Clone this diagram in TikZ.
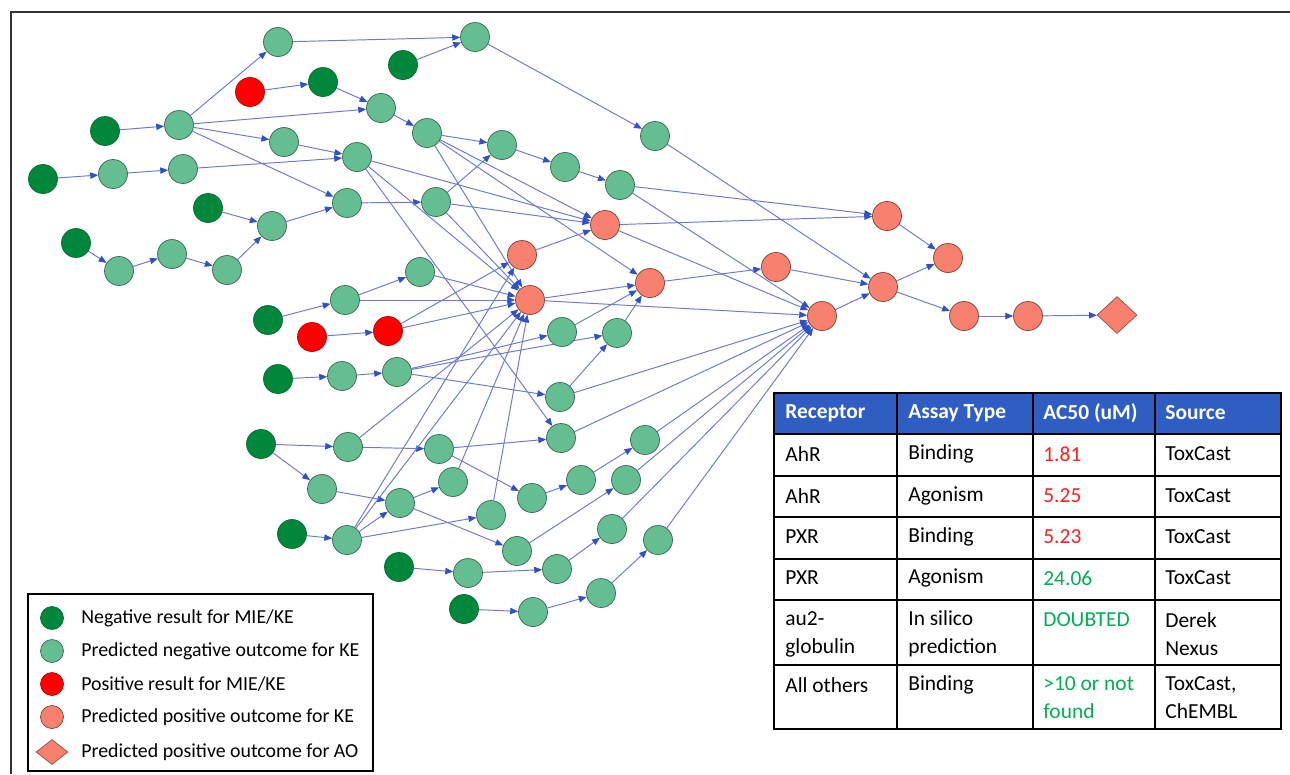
\documentclass[tikz,border=0pt]{standalone}
\usepackage{fontspec}
\setmainfont{Carlito}
\usetikzlibrary{shapes.geometric, arrows.meta, backgrounds}
\definecolor{mie}{HTML}{00873C}
\definecolor{kelo}{HTML}{64BE91}
\definecolor{miepos}{HTML}{FF0000}
\definecolor{kepos}{HTML}{F8806E}
\definecolor{edgeblue}{HTML}{6A78D6}
\definecolor{tipblue}{HTML}{2F50C8}
\definecolor{hdr}{HTML}{2F5DC2}
\definecolor{valred}{HTML}{FF1F1F}
\definecolor{valgreen}{HTML}{00B050}

\begin{document}
\begin{tikzpicture}[x=0.02cm, y=-0.02cm,
    every node/.style={font=\fontsize{11.3}{15.6}\selectfont},
    neg/.style={circle, fill=mie, draw=mie!80!black, minimum size=0.58cm, inner sep=0},
    ke/.style={circle, fill=kelo, draw=kelo!55!black, minimum size=0.58cm, inner sep=0},
    posmie/.style={circle, fill=miepos, draw=miepos!70!black, minimum size=0.58cm, inner sep=0},
    kp/.style={circle, fill=kepos, draw=kepos!50!black, minimum size=0.58cm, inner sep=0},
    ao/.style={diamond, fill=kepos, draw=kepos!60!black, minimum width=0.8cm,
               minimum height=0.74cm, inner sep=0},
    arr/.style={-{Triangle[length=4.5pt, width=3.6pt, color=tipblue]}, draw=edgeblue,
                line width=0.55pt},
    cell/.style={anchor=west, align=left, inner sep=0},
    tcell/.style={cell, font=\fontsize{12.2}{16}\selectfont},
    thead/.style={cell, white, font=\fontsize{12.2}{16}\selectfont\bfseries},
    tline/.style={draw=black, line width=0.7pt}
]
    \useasboundingbox (0,0) rectangle (1290,774);
    \draw[line width=0.8pt, black!80] (11,774) -- (11,12) -- (1290,12);

    % negative results (MIE)
    \node[neg] (m1)  at (43,179)  {};
    \node[neg] (m2)  at (105,131) {};
    \node[neg] (m3)  at (208,208) {};
    \node[neg] (m4)  at (76,243)  {};
    \node[neg] (m5)  at (403,65)  {};
    \node[neg] (m6)  at (323,82)  {};
    \node[neg] (m7)  at (268,320) {};
    \node[neg] (m8)  at (278,379) {};
    \node[neg] (m9)  at (261,444) {};
    \node[neg] (m10) at (292,534) {};
    \node[neg] (m11) at (399,567) {};
    \node[neg] (m12) at (464,609) {};
    % positive results (MIE)
    \node[posmie] (r1) at (250,92)  {};
    \node[posmie] (r2) at (312,337) {};
    \node[posmie] (r3) at (388,331) {};
    % predicted negative KE
    \node[ke] (k1)  at (278,42)  {};
    \node[ke] (k2)  at (475,37)  {};
    \node[ke] (k3)  at (179,125) {};
    \node[ke] (k4)  at (113,174) {};
    \node[ke] (k5)  at (183,169) {};
    \node[ke] (k6)  at (381,108) {};
    \node[ke] (k7)  at (284,142) {};
    \node[ke] (k8)  at (427,133) {};
    \node[ke] (k9)  at (357,157) {};
    \node[ke] (k10) at (347,203) {};
    \node[ke] (k11) at (436,202) {};
    \node[ke] (k12) at (502,145) {};
    \node[ke] (k13) at (565,167) {};
    \node[ke] (k14) at (620,185) {};
    \node[ke] (k15) at (655,136) {};
    \node[ke] (k16) at (272,226) {};
    \node[ke] (k17) at (119,271) {};
    \node[ke] (k18) at (172,254) {};
    \node[ke] (k19) at (227,270) {};
    \node[ke] (k20) at (420,272) {};
    \node[ke] (k21) at (345,300) {};
    \node[ke] (k22) at (342,376) {};
    \node[ke] (k23) at (397,372) {};
    \node[ke] (k24) at (562,332) {};
    \node[ke] (k25) at (617,333) {};
    \node[ke] (k26) at (560,397) {};
    \node[ke] (k27) at (561,438) {};
    \node[ke] (k28) at (348,447) {};
    \node[ke] (k29) at (439,449) {};
    \node[ke] (k30) at (322,489) {};
    \node[ke] (k31) at (453,482) {};
    \node[ke] (k32) at (400,503) {};
    \node[ke] (k33) at (491,515) {};
    \node[ke] (k34) at (532,498) {};
    \node[ke] (k35) at (581,480) {};
    \node[ke] (k36) at (626,480) {};
    \node[ke] (k37) at (645,440) {};
    \node[ke] (k38) at (517,551) {};
    \node[ke] (k39) at (612,529) {};
    \node[ke] (k40) at (658,540) {};
    \node[ke] (k41) at (347,540) {};
    \node[ke] (k42) at (468,573) {};
    \node[ke] (k43) at (557,569) {};
    \node[ke] (k44) at (601,593) {};
    \node[ke] (k45) at (533,612) {};
    % predicted positive KE and AO
    \node[kp] (p1)  at (605,225)  {};
    \node[kp] (p2)  at (522,255)  {};
    \node[kp] (p3)  at (530,300)  {};
    \node[kp] (p4)  at (650,283)  {};
    \node[kp] (p5)  at (776,267)  {};
    \node[kp] (p6)  at (822,316)  {};
    \node[kp] (p7)  at (887,216)  {};
    \node[kp] (p8)  at (883,287)  {};
    \node[kp] (p9)  at (948,258)  {};
    \node[kp] (p10) at (964,316)  {};
    \node[kp] (p11) at (1028,316) {};
    \node[ao] (ao)  at (1117,315) {};

    \begin{scope}[on background layer]
    \foreach \a/\b in {m2/k3, k3/k1, k3/k6, k3/k7, k3/k10, k1/k2, m5/k2, r1/m6, m6/k6,
        k6/k8, m1/k4, k4/k5, k5/k9, k7/k9, m3/k16, k16/k10, m4/k17, k17/k18, k18/k19,
        k19/k16, k10/k11, k2/k15, k8/k12, k12/k13, k13/k14, k11/k12,
        k9/p1, k9/p3, k9/k27, k8/p1, k8/p4, k8/p3, k11/p1, k11/p3,
        m7/k21, k21/k20, k21/p3, k20/p3, r2/r3, r3/p2, r3/p3, m8/k22, k22/k23,
        k23/k24, k23/k25, k23/k26, k26/k25, k26/p6, k24/p4, k25/p4, p3/p4, p3/p6,
        p2/p1, p1/p6, p1/p7, k14/p7, k14/p6, k15/p8, p4/p5, p5/p8, p6/p8, p7/p9,
        p8/p9, p8/p10, p10/p11, p11/ao,
        m9/k28, m9/k30, k28/p3, k28/k29, k29/k27, k29/k34, k30/k32, m10/k41,
        k41/k32, k32/k31, k41/k33, k41/p3, k41/p2, k32/k38, k31/p3, k33/p3,
        k27/p6, k37/p6, k34/k35, k35/k37, k36/p6, k38/k36, k39/p6, k40/p6,
        m11/k42, k42/k43, k43/k39, m12/k45, k45/k44, k44/k40}
        \draw[arr] (\a) -- (\b);
    \end{scope}

    % legend
    \draw[line width=0.8pt] (28,594) rectangle (373,771);
    \node[neg, minimum size=0.46cm] (s1) at (52,618) {};
    \node[ke, minimum size=0.46cm]  (s2) at (52,651) {};
    \node[posmie, minimum size=0.46cm] (s3) at (52,684) {};
    \node[kp, minimum size=0.46cm]  (s4) at (52,717) {};
    \node[ao, minimum width=0.64cm, minimum height=0.5cm] (s5) at (52,752) {};
    \node[cell] (l1) at (81,618) {Negative result for MIE/KE};
    \node[cell] (l2) at (81,651) {Predicted negative outcome for KE};
    \node[cell] (l3) at (81,684) {Positive result for MIE/KE};
    \node[cell] (l4) at (81,717) {Predicted positive outcome for KE};
    \node[cell] (l5) at (81,752) {Predicted positive outcome for AO};

    % table
    \fill[hdr] (774,393) rectangle (1281,434);
    \foreach \y in {434,476,517,559,600,665}
        \draw[tline] (774,\y) -- (1281,\y);
    \foreach \x in {897,1033,1155}
        \draw[tline] (\x,393) -- (\x,729);
    \draw[tline] (774,393) rectangle (1281,729);
    \node[thead] (h1) at (785,413)  {Receptor};
    \node[thead] (h2) at (908,413)  {Assay Type};
    \node[thead] (h3) at (1043,413) {AC50 (uM)};
    \node[thead] (h4) at (1165,413) {Source};
    \node[tcell] (a1) at (785,454)  {AhR};
    \node[tcell] (b1) at (908,454)  {Binding};
    \node[tcell, valred] (c1) at (1043,454) {1.81};
    \node[tcell] (d1) at (1165,454) {ToxCast};
    \node[tcell] (a2) at (785,496)  {AhR};
    \node[tcell] (b2) at (908,496)  {Agonism};
    \node[tcell, valred] (c2) at (1043,496) {5.25};
    \node[tcell] (d2) at (1165,496) {ToxCast};
    \node[tcell] (a3) at (785,537)  {PXR};
    \node[tcell] (b3) at (908,537)  {Binding};
    \node[tcell, valred] (c3) at (1043,537) {5.23};
    \node[tcell] (d3) at (1165,537) {ToxCast};
    \node[tcell] (a4) at (785,578)  {PXR};
    \node[tcell] (b4) at (908,578)  {Agonism};
    \node[tcell, valgreen] (c4) at (1043,578) {24.06};
    \node[tcell] (d4) at (1165,578) {ToxCast};
    \node[tcell] (a5) at (785,634)  {au2-\\globulin};
    \node[tcell] (b5) at (908,634)  {In silico\\prediction};
    \node[tcell, valgreen] (c5) at (1043,620) {DOUBTED};
    \node[tcell] (d5) at (1165,634) {Derek\\Nexus};
    \node[tcell] (a6) at (785,685)  {All others};
    \node[tcell] (b6) at (908,685)  {Binding};
    \node[tcell, valgreen] (c6) at (1043,698) {>10 or not\\found};
    \node[tcell] (d6) at (1165,698) {ToxCast,\\ChEMBL};
\end{tikzpicture}
\end{document}
